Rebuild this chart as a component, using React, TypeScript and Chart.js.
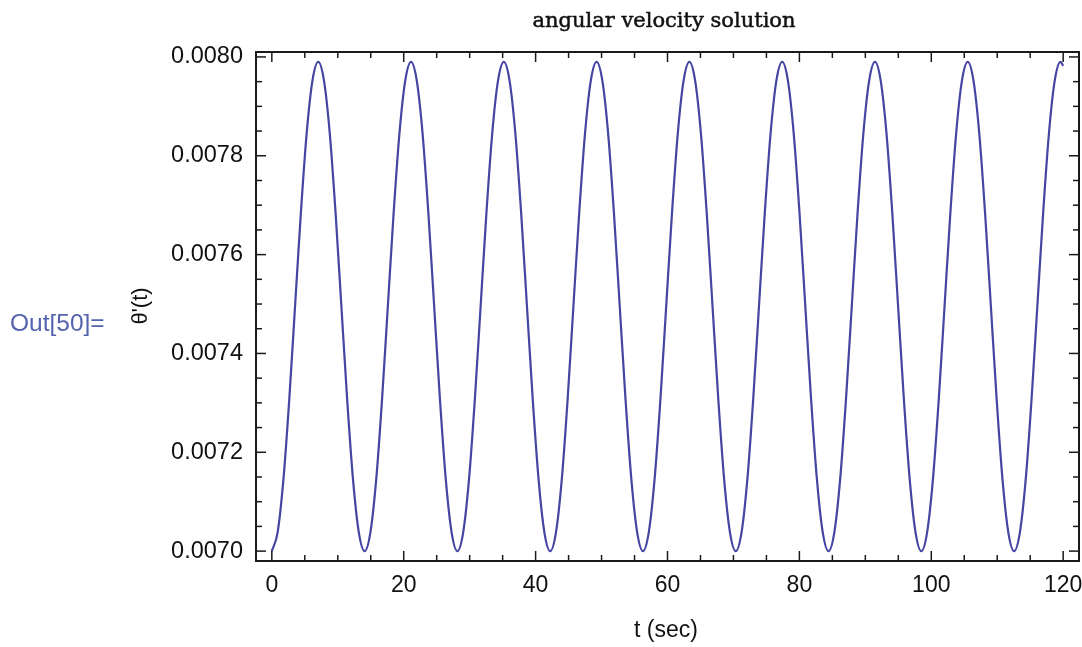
import React, { useEffect, useRef } from "react";
import { Chart, registerables } from "chart.js";
Chart.register(...registerables);

// time samples (sec)
const tSec = [
  0, 0.88, 1.76, 2.64, 3.52, 4.4, 5.28, 6.16, 7.04, 7.91, 8.79, 9.67, 10.55, 11.43, 12.31, 13.19,
  14.07, 14.95, 15.83, 16.71, 17.59, 18.47, 19.35, 20.23, 21.11, 21.98, 22.86, 23.74, 24.62, 25.5, 26.38, 27.26,
  28.14, 29.02, 29.9, 30.78, 31.66, 32.54, 33.42, 34.3, 35.18, 36.05, 36.93, 37.81, 38.69, 39.57, 40.45, 41.33,
  42.21, 43.09, 43.97, 44.85, 45.73, 46.61, 47.49, 48.37, 49.25, 50.12, 51.0, 51.88, 52.76, 53.64, 54.52, 55.4,
  56.28, 57.16, 58.04, 58.92, 59.8, 60.68, 61.56, 62.44, 63.32, 64.19, 65.07, 65.95, 66.83, 67.71, 68.59, 69.47,
  70.35, 71.23, 72.11, 72.99, 73.87, 74.75, 75.63, 76.51, 77.39, 78.26, 79.14, 80.02, 80.9, 81.78, 82.66, 83.54,
  84.42, 85.3, 86.18, 87.06, 87.94, 88.82, 89.7, 90.58, 91.46, 92.33, 93.21, 94.09, 94.97, 95.85, 96.73, 97.61,
  98.49, 99.37, 100.25, 101.13, 102.01, 102.89, 103.77, 104.65, 105.53, 106.4, 107.28, 108.16, 109.04, 109.92, 110.8, 111.68,
  112.56, 113.44, 114.32, 115.2, 116.08, 116.96, 117.84, 118.72, 119.6, 120,
];

// angular velocity theta'(t) read at those times
const omega = [
  0.007, 0.007038, 0.007145, 0.007306, 0.007495, 0.007684, 0.007845, 0.007952, 0.00799, 0.007952, 0.007845, 0.007684, 0.007495, 0.007306, 0.007145, 0.007038,
  0.007, 0.007038, 0.007145, 0.007306, 0.007495, 0.007684, 0.007845, 0.007952, 0.00799, 0.007952, 0.007845, 0.007684, 0.007495, 0.007306, 0.007145, 0.007038,
  0.007, 0.007038, 0.007145, 0.007306, 0.007495, 0.007684, 0.007845, 0.007952, 0.00799, 0.007952, 0.007845, 0.007684, 0.007495, 0.007306, 0.007145, 0.007038,
  0.007, 0.007038, 0.007145, 0.007306, 0.007495, 0.007684, 0.007845, 0.007952, 0.00799, 0.007952, 0.007845, 0.007684, 0.007495, 0.007306, 0.007145, 0.007038,
  0.007, 0.007038, 0.007145, 0.007306, 0.007495, 0.007684, 0.007845, 0.007952, 0.00799, 0.007952, 0.007845, 0.007684, 0.007495, 0.007306, 0.007145, 0.007038,
  0.007, 0.007038, 0.007145, 0.007306, 0.007495, 0.007684, 0.007845, 0.007952, 0.00799, 0.007952, 0.007845, 0.007684, 0.007495, 0.007306, 0.007145, 0.007038,
  0.007, 0.007038, 0.007145, 0.007306, 0.007495, 0.007684, 0.007845, 0.007952, 0.00799, 0.007952, 0.007845, 0.007684, 0.007495, 0.007306, 0.007145, 0.007038,
  0.007, 0.007038, 0.007145, 0.007306, 0.007495, 0.007684, 0.007845, 0.007952, 0.00799, 0.007952, 0.007845, 0.007684, 0.007495, 0.007306, 0.007145, 0.007038,
  0.007, 0.007038, 0.007145, 0.007306, 0.007495, 0.007684, 0.007845, 0.007952, 0.00799, 0.007982,
];

const xTickValues = [0, 20, 40, 60, 80, 100, 120];
const yTickValues = [0.007, 0.0072, 0.0074, 0.0076, 0.0078, 0.008];
const yTickLabels = ["0.0070", "0.0072", "0.0074", "0.0076", "0.0078", "0.0080"];

const titleText = "angular velocity solution";
const xAxisLabel = "t (sec)";
const yAxisLabel = "\u03B8'(t)";
const outLabel = "Out[50]=";

export default function App() {
  const canvasRef = useRef<HTMLCanvasElement>(null);

  useEffect(() => {
    document.body.style.margin = "0";
    const canvas = canvasRef.current;
    if (!canvas) return;

    const framePlugin = {
      id: "framePlugin",
      afterDraw(chart: any) {
        const { ctx, chartArea: a, scales } = chart;
        const xs = scales.x;
        const ys = scales.y;
        ctx.save();
        ctx.strokeStyle = "#1a1a1a";
        ctx.lineWidth = 1.5;
        const seg = (x1: number, y1: number, x2: number, y2: number) => {
          ctx.beginPath();
          ctx.moveTo(x1, y1);
          ctx.lineTo(x2, y2);
          ctx.stroke();
        };
        // x ticks (bottom and top, pointing inward)
        for (let i = 0; i <= 24; i++) {
          const v = i * 5;
          const major = i % 4 === 0;
          const len = major ? 10 : 6;
          const px = xs.getPixelForValue(v);
          seg(px, a.bottom, px, a.bottom - len);
          seg(px, a.top, px, a.top + len);
        }
        // y ticks (left and right)
        for (let i = 0; i <= 20; i++) {
          const v = 0.007 + i * 0.00005;
          const major = i % 4 === 0;
          const len = major ? 10 : 6;
          const py = ys.getPixelForValue(v);
          seg(a.left, py, a.left + len, py);
          seg(a.right, py, a.right - len, py);
        }
        // frame
        ctx.lineWidth = 2;
        ctx.strokeRect(a.left, a.top, a.right - a.left, a.bottom - a.top);

        // title
        ctx.fillStyle = "#111";
        ctx.strokeStyle = "#111";
        ctx.lineWidth = 0.5;
        ctx.textAlign = "center";
        ctx.textBaseline = "alphabetic";
        ctx.font = "21px 'DejaVu Serif'";
        ctx.fillText(titleText, 664, 27);
        ctx.strokeText(titleText, 664, 27);

        // x axis label
        ctx.textBaseline = "middle";
        ctx.fillStyle = "#111";
        ctx.font = "23px 'Liberation Sans'";
        ctx.fillText(xAxisLabel, 666, 631);

        // y axis label (rotated)
        ctx.save();
        ctx.translate(141, 306);
        ctx.rotate(-Math.PI / 2);
        ctx.font = "22px 'Liberation Sans'";
        ctx.fillText(yAxisLabel, 0, 0);
        ctx.restore();

        // Out label
        ctx.fillStyle = "#5463ad";
        ctx.textAlign = "left";
        ctx.font = "24.5px 'Liberation Sans'";
        ctx.fillText(outLabel, 10, 324);
        ctx.restore();
      },
    };

    const chart = new Chart(canvas, {
      type: "line",
      data: {
        datasets: [
          {
            data: tSec.map((t, i) => ({ x: t, y: omega[i] })),
            borderColor: "#4545a3",
            borderWidth: 2.2,
            pointRadius: 0,
            cubicInterpolationMode: "monotone",
            fill: false,
          },
        ],
      },
      options: {
        animation: false,
        responsive: true,
        maintainAspectRatio: false,
        layout: { padding: { top: 52, left: 0, right: 3, bottom: 0 } },
        plugins: {
          legend: { display: false },
          title: { display: false },
          tooltip: { enabled: false },
        },
        scales: {
          x: {
            type: "linear",
            min: -2.4,
            max: 122.4,
            grid: { display: false, drawTicks: false },
            border: { display: false },
            afterBuildTicks: (s: any) => {
              s.ticks = xTickValues.map((v) => ({ value: v }));
            },
            afterFit: (s: any) => {
              s.height = 86;
              s.paddingLeft = 0;
              s.paddingRight = 0;
            },
            ticks: {
              color: "#111",
              font: { family: "'Liberation Sans'", size: 23 },
              padding: 11,
              maxRotation: 0,
              callback: (v: any) => String(v),
            },
          },
          y: {
            type: "linear",
            min: 0.00698,
            max: 0.00801,
            grid: { display: false, drawTicks: false },
            border: { display: false },
            afterBuildTicks: (s: any) => {
              s.ticks = yTickValues.map((v) => ({ value: v }));
            },
            afterFit: (s: any) => {
              s.width = 256;
              s.paddingTop = 0;
              s.paddingBottom = 0;
            },
            ticks: {
              color: "#111",
              font: { family: "'Liberation Sans'", size: 23.5 },
              padding: 13,
              callback: (v: any) => {
                const idx = yTickValues.findIndex((t) => Math.abs(t - v) < 1e-9);
                return idx >= 0 ? yTickLabels[idx] : "";
              },
            },
          },
        },
      },
      plugins: [framePlugin],
    });

    return () => chart.destroy();
  }, []);

  return (
    <div style={{ position: "absolute", left: 0, top: 0, width: 1082, height: 647, background: "#fff" }}>
      <canvas ref={canvasRef} />
    </div>
  );
}
